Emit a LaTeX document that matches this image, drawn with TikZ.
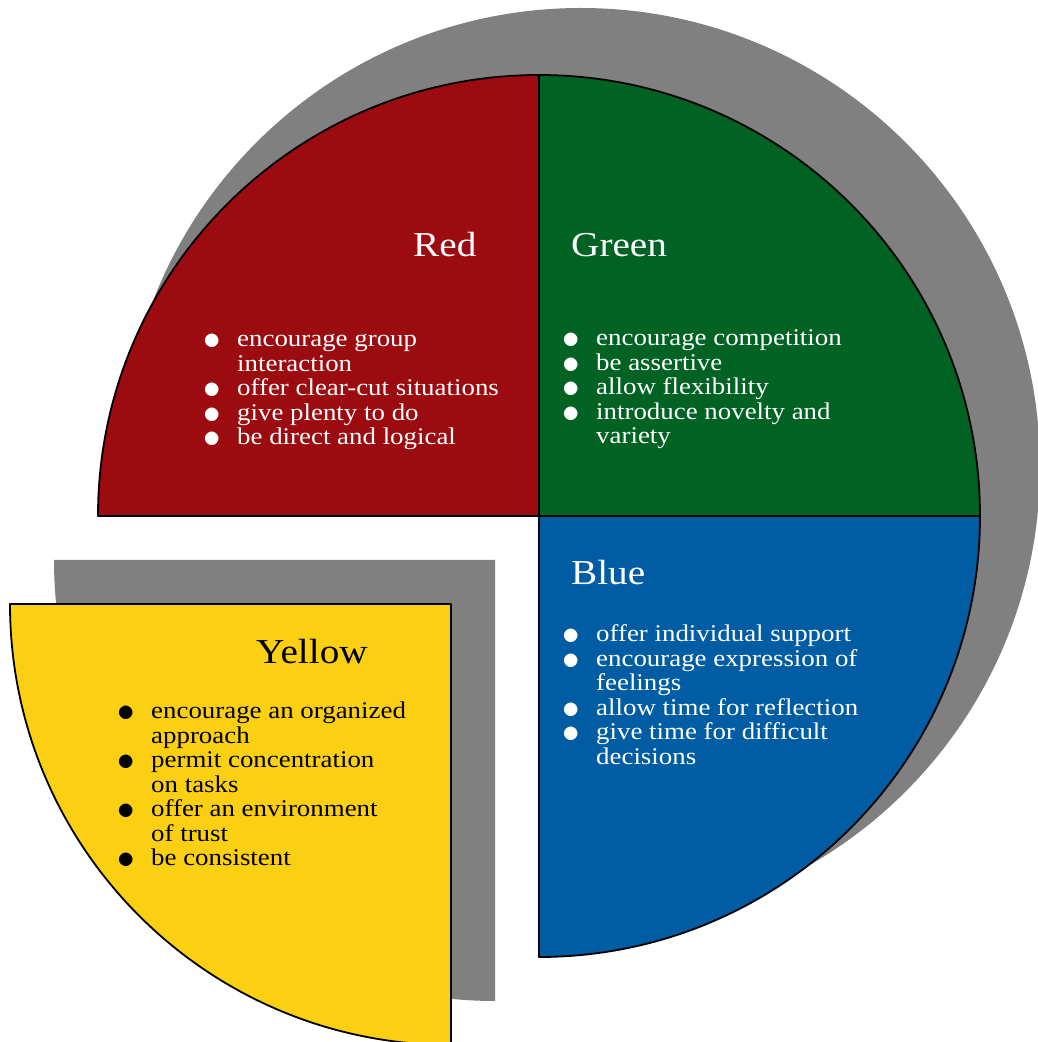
\documentclass[tikz,border=0pt]{standalone}
\usepackage{fontspec}
\setmainfont{Liberation Serif}[FakeStretch=1.12]
\usepackage{tikz}
\usepackage{color}
\definecolor{redq}{RGB}{155,11,16}
\definecolor{greenq}{RGB}{0,99,36}
\definecolor{blueq}{RGB}{0,93,163}
\definecolor{yellowq}{RGB}{251,208,19}
\definecolor{shadowgray}{RGB}{128,128,128}
\newcommand{\blt}{\makebox[50pt]{\raisebox{-3pt}{\scalebox{1.4}{$\bullet$}}}}
\begin{document}
\begin{tikzpicture}[x=1pt,y=1pt,
    wedge/.style={draw=black,line width=1.8pt,line join=round},
    shadowfill/.style={fill=shadowgray},
    title/.style={inner sep=0pt,anchor=base west,font=\fontsize{35}{40}\selectfont},
    list/.style={inner sep=0pt,anchor=base west,font=\fontsize{24}{24.5}\selectfont}]
    \useasboundingbox (0,0) rectangle (1037,1042);
    \coordinate (C) at (539,526);
    \coordinate (S) at (581,575);
    \coordinate (Y) at (451,438);
    \coordinate (YS) at (495,482);
    \fill[shadowfill]
    (S) -- ++(0,-459) arc[start angle=-90,end angle=180,radius=459] -- cycle;
    \fill[shadowfill]
    (YS) -- ++(-441,0) arc[start angle=180,end angle=270,radius=441] -- cycle;
    \filldraw[wedge,fill=redq]
    (C) -- ++(-441,0) arc[start angle=180,end angle=90,radius=441] -- cycle;
    \filldraw[wedge,fill=greenq]
    (C) -- ++(0,441) arc[start angle=90,end angle=0,radius=441] -- cycle;
    \filldraw[wedge,fill=blueq]
    (C) -- ++(441,0) arc[start angle=0,end angle=-90,radius=441] -- cycle;
    \filldraw[wedge,fill=yellowq]
    (Y) -- ++(-441,0) arc[start angle=180,end angle=270,radius=441] -- cycle;
    \node[title,text=white] (red) at (413,785) {Red};
    \node[title,text=white] (green) at (571,785) {Green};
    \node[title,text=white] (blue) at (571,457) {Blue};
    \node[title] (yellow) at (256,378) {Yellow};
    \node[list,text=white] (redlist) at (187,695) {\begin{tabular}[t]{@{}l@{}l@{}}
      \blt & encourage group\\ & interaction\\
      \blt & offer clear-cut situations\\
      \blt & give plenty to do\\
      \blt & be direct and logical
    \end{tabular}};
    \node[list,text=white] (greenlist) at (546,696) {\begin{tabular}[t]{@{}l@{}l@{}}
      \blt & encourage competition\\
      \blt & be assertive\\
      \blt & allow flexibility\\
      \blt & introduce novelty and\\ & variety
    \end{tabular}};
    \node[list,text=white] (bluelist) at (546,400) {\begin{tabular}[t]{@{}l@{}l@{}}
      \blt & offer individual support\\
      \blt & encourage expression of\\ & feelings\\
      \blt & allow time for reflection\\
      \blt & give time for difficult\\ & decisions
    \end{tabular}};
    \node[list] (yellowlist) at (101,323) {\begin{tabular}[t]{@{}l@{}l@{}}
      \blt & encourage an organized\\ & approach\\
      \blt & permit concentration\\ & on tasks\\
      \blt & offer an environment\\ & of trust\\
      \blt & be consistent
    \end{tabular}};
\end{tikzpicture}
\end{document}
